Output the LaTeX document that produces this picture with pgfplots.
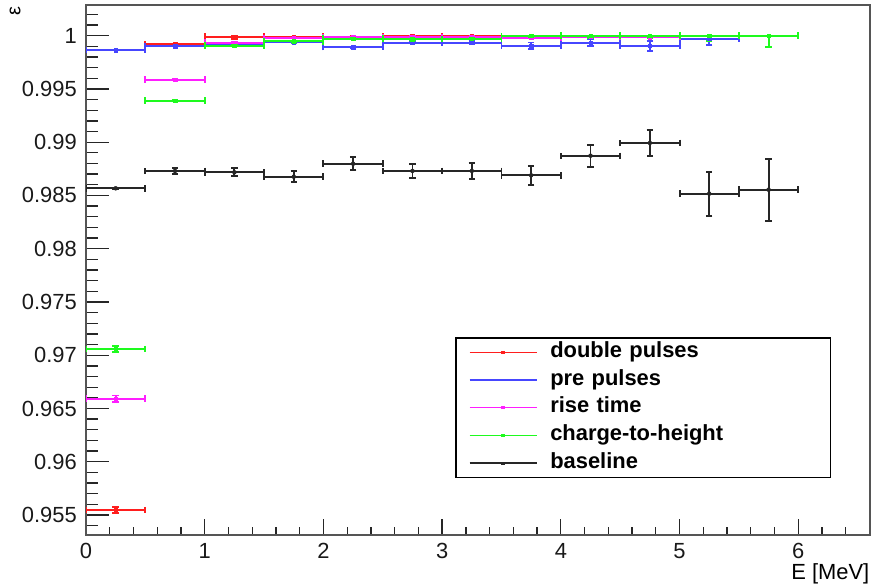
\documentclass[border=0pt]{standalone}
\usepackage{fontspec}
\setmainfont{Liberation Sans}
\usepackage{pgfplots}
\pgfplotsset{compat=1.18}
\usepackage{pgfplotstable}

\definecolor{rred}{RGB}{255,30,30}
\definecolor{rblue}{RGB}{70,70,255}
\definecolor{rmag}{RGB}{255,30,255}
\definecolor{rgreen}{RGB}{30,250,30}
\definecolor{framec}{RGB}{85,85,85}

\pgfplotstableread{
x y ex eyp eym
0.25 0.95547 0.25 0.0003 0.0003
0.75 0.99919 0.25 0.00003 0.00003
1.25 0.99991 0.25 0.00003 0.0002
1.75 0.99985 0.25 0.00003 0.00003
2.25 0.99991 0.25 0.00002 0.00004
2.75 0.99994 0.25 0.00002 0.00003
3.25 0.99994 0.25 0.00002 0.00003
3.75 0.99992 0.25 0.00002 0.00004
4.25 0.99995 0.25 0.00003 0.00005
4.75 0.99991 0.25 0.00005 0.00045
}\dbl

\pgfplotstableread{
x y ex eyp eym
0.25 0.99866 0.25 0.00003 0.00003
0.75 0.99903 0.25 0.00003 0.00003
1.25 0.99925 0.25 0.00003 0.00003
1.75 0.99938 0.25 0.00005 0.00005
2.25 0.99891 0.25 0.00005 0.00005
2.75 0.99935 0.25 0.00008 0.00008
3.25 0.99935 0.25 0.00015 0.00015
3.75 0.99906 0.25 0.0003 0.0003
4.25 0.99934 0.25 0.0003 0.0003
4.75 0.99906 0.25 0.00047 0.00047
5.25 0.99972 0.25 0.0002 0.0006
}\pre

\pgfplotstableread{
x y ex eyp eym
0.25 0.96592 0.25 0.0003 0.0003
0.75 0.99587 0.25 0.00003 0.00003
1.25 0.99935 0.25 0.00003 0.00003
1.75 0.99976 0.25 0.00003 0.00003
2.25 0.99985 0.25 0.00003 0.00003
2.75 0.99990 0.25 0.00003 0.00003
3.25 0.99990 0.25 0.00003 0.00003
3.75 0.99980 0.25 0.00004 0.00004
4.25 0.99990 0.25 0.00005 0.00005
4.75 0.99985 0.25 0.00008 0.00008
}\rise

\pgfplotstableread{
x y ex eyp eym
0.25 0.97058 0.25 0.0003 0.0003
0.75 0.99390 0.25 0.00003 0.00003
1.25 0.99906 0.25 0.00004 0.00004
1.75 0.99947 0.25 0.00004 0.00004
2.25 0.99972 0.25 0.00004 0.00004
2.75 0.99966 0.25 0.00004 0.00004
3.25 0.99970 0.25 0.00005 0.00005
3.75 0.99998 0.25 0.00002 0.0001
4.25 1.00000 0.25 0 0.00025
4.75 1.00000 0.25 0 0.0002
5.25 1.00000 0.25 0 0.0005
5.75 1.00000 0.25 0 0.00105
}\cth

\pgfplotstableread{
x y ex eyp eym
0.25 0.98567 0.25 0.00006 0.00006
0.75 0.98730 0.25 0.00025 0.00025
1.25 0.98717 0.25 0.00038 0.00038
1.75 0.98676 0.25 0.00053 0.00053
2.25 0.98798 0.25 0.00060 0.00060
2.75 0.98730 0.25 0.00069 0.00069
3.25 0.98730 0.25 0.00075 0.00075
3.75 0.98689 0.25 0.00088 0.00088
4.25 0.98873 0.25 0.00102 0.00102
4.75 0.98993 0.25 0.00119 0.00119
5.25 0.98517 0.25 0.00207 0.00207
5.75 0.98554 0.25 0.00291 0.00291
}\base

\begin{document}
\begin{tikzpicture}
\useasboundingbox (0,0) rectangle (871bp,585bp);
\begin{axis}[
  at={(86bp,50bp)}, anchor=south west,
  scale only axis, width=783.5bp, height=530bp,
  xmin=0, xmax=6.6, ymin=0.95312, ymax=1.00288,
  axis line style={draw=framec, line width=2bp},
  xtick={0,1,2,3,4,5,6},
  xticklabels={0,1,2,3,4,5,6},
  minor xtick={0.2,0.4,...,6.4},
  ytick={0.955,0.96,0.965,0.97,0.975,0.98,0.985,0.99,0.995,1},
  yticklabels={0.955,0.96,0.965,0.97,0.975,0.98,0.985,0.99,0.995,1},
  minor ytick={0.954,0.955,...,1.002},
  tick align=inside, xtick pos=bottom, ytick pos=left,
  xtick style={/pgfplots/major tick length=16bp,/pgfplots/minor tick length=8bp, line width=1.3bp, black!85},
  ytick style={/pgfplots/major tick length=23bp,/pgfplots/minor tick length=11.5bp, line width=1.3bp, black!85},
  ticklabel style={font=\fontsize{22}{22}\selectfont, text=black!90},
  xticklabel style={inner ysep=0pt, yshift=-8bp},
  yticklabel style={inner xsep=0pt, xshift=-9bp},
  xlabel={E [MeV]},
  every axis x label/.style={at={(rel axis cs:1,0)}, anchor=base east, yshift=-44bp, inner sep=0pt, font=\fontsize{22}{22}\selectfont},
  ylabel={ε},
  every axis y label/.style={at={(rel axis cs:0,1)}, anchor=center, xshift=-71bp, yshift=-6bp, rotate=90, inner sep=0pt, font=\fontsize{20}{20}\selectfont},
  legend style={at={(0.4722,0.3717)}, anchor=north west, draw=black, line width=1.3bp, outer sep=0pt,
    inner xsep=13bp, inner ysep=0.5bp, row sep=0pt,
    font=\bfseries\fontsize{22}{22}\selectfont,
    nodes={text width=254bp, text height=15bp, text depth=5bp, inner xsep=13bp, inner ysep=3.85bp, align=left}},
  legend cell align=left,
  legend image code/.code={\draw[#1, line width=1.3bp] (0bp,0bp) -- (67bp,0bp);
     \fill[#1] (32.5bp,-0.8bp) rectangle (34.5bp,0.8bp);},
  error bars/error bar style={line width=1.9bp},
  error bars/error mark options={line width=1.9bp, mark size=3.2bp, rotate=90},
]
\addplot[rred, only marks, mark=square*, mark size=1.8bp,
  error bars/.cd, x dir=both, x explicit, y dir=both, y explicit]
  table[x=x, y=y, x error=ex, y error plus=eyp, y error minus=eym]{\dbl};
\addlegendentry{double pulses}
\addplot[rblue, only marks, mark=square*, mark size=1.8bp,
  error bars/.cd, x dir=both, x explicit, y dir=both, y explicit]
  table[x=x, y=y, x error=ex, y error plus=eyp, y error minus=eym]{\pre};
\addlegendentry{pre pulses}
\addplot[rmag, only marks, mark=square*, mark size=1.8bp,
  error bars/.cd, x dir=both, x explicit, y dir=both, y explicit]
  table[x=x, y=y, x error=ex, y error plus=eyp, y error minus=eym]{\rise};
\addlegendentry{rise time}
\addplot[rgreen, only marks, mark=square*, mark size=1.8bp,
  error bars/.cd, x dir=both, x explicit, y dir=both, y explicit]
  table[x=x, y=y, x error=ex, y error plus=eyp, y error minus=eym]{\cth};
\addlegendentry{charge-to-height}
\addplot[black!85, only marks, mark=none,
  error bars/.cd, x dir=both, x explicit, y dir=both, y explicit]
  table[x=x, y=y, x error=ex, y error plus=eyp, y error minus=eym]{\base};
\addlegendentry{baseline}
\end{axis}
\end{tikzpicture}
\end{document}
